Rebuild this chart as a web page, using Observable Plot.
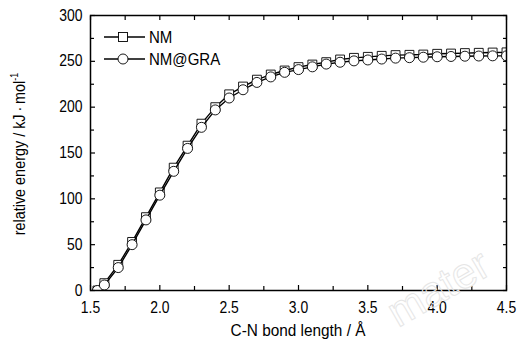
<!DOCTYPE html>
<html>
<head>
<meta charset="utf-8">
<script src="https://cdn.jsdelivr.net/npm/d3@7"></script>
<script src="https://cdn.jsdelivr.net/npm/@observablehq/plot@0.6"></script>
<style>
  html, body { margin: 0; padding: 0; background: #fff; }
  #chart { width: 517px; height: 342px; overflow: hidden; }
</style>
</head>
<body>
<div id="chart"></div>
<script>
// C-N bond length (Å)
const bondLength = [1.55, 1.6, 1.7, 1.8, 1.9, 2.0, 2.1, 2.2, 2.3, 2.4, 2.5, 2.6, 2.7, 2.8, 2.9, 3.0,
  3.1, 3.2, 3.3, 3.4, 3.5, 3.6, 3.7, 3.8, 3.9, 4.0, 4.1, 4.2, 4.3, 4.4, 4.5];
// relative energy (kJ/mol)
const nmEnergy = [0, 8, 28, 53, 80, 107, 134, 158, 182, 200, 214, 222.5, 230, 235.6, 240, 243.7,
  246.5, 249.1, 252, 253.8, 254.9, 256, 256.8, 257.1, 257.4, 258.2, 258.5, 259, 259.3, 259.6, 259.8];
const nmGraEnergy = [0, 6, 25, 50, 77, 104, 130, 155, 178, 197, 210, 219, 227, 233, 238, 241,
  244, 247, 249, 250.5, 251.5, 252.5, 253.5, 254, 254.5, 255, 255.3, 255.6, 255.8, 256, 256];
const seriesNames = ["NM", "NM@GRA"];
const xMajorTicks = [1.5, 2.0, 2.5, 3.0, 3.5, 4.0, 4.5];
const xMinorTicks = [1.75, 2.25, 2.75, 3.25, 3.75, 4.25];
const yMajorTicks = [0, 50, 100, 150, 200, 250, 300];
const yMinorTicks = [25, 75, 125, 175, 225, 275];
const xLabel = "C-N bond length / Å";
const yLabel = "relative energy / kJ\u2009·\u2009mol";

const nmData = bondLength.map((x, i) => ({x, y: nmEnergy[i]}));
const graData = bondLength.map((x, i) => ({x, y: nmGraEnergy[i]}));

const font = "'Liberation Sans',Arial,sans-serif";
const blank = () => "";

const plot = Plot.plot({
  width: 517,
  height: 342,
  marginLeft: 90,
  marginRight: 11,
  marginTop: 15,
  marginBottom: 52,
  style: {fontFamily: font, fontSize: "16px", color: "#000", background: "#fff", overflow: "visible"},
  x: {domain: [1.5, 4.5]},
  y: {domain: [0, 300]},
  marks: [
    Plot.line(nmData, {x: "x", y: "y", stroke: "#000", strokeWidth: 1.4, clip: true}),
    Plot.dot(nmData, {x: "x", y: "y", symbol: "square", r: 5, fill: "#fff", stroke: "#000", strokeWidth: 0.9, clip: true}),
    Plot.line(graData, {x: "x", y: "y", stroke: "#000", strokeWidth: 1.4, clip: true}),
    Plot.dot(graData, {x: "x", y: "y", symbol: "circle", r: 5, fill: "#fff", stroke: "#000", strokeWidth: 0.9, clip: true}),
    Plot.frame({stroke: "#000", strokeWidth: 1.5}),
    Plot.axisX({ticks: xMajorTicks, tickSize: -5, tickPadding: 16, tickFormat: d3.format(".1f"), label: null, strokeWidth: 1.2}),
    Plot.axisX({ticks: xMinorTicks, tickSize: -4, tickFormat: blank, label: null, strokeWidth: 1.2}),
    Plot.axisX({anchor: "top", ticks: xMajorTicks.concat(xMinorTicks), tickSize: -4, tickFormat: blank, label: null, strokeWidth: 1.2}),
    Plot.axisY({ticks: yMajorTicks, tickSize: -5, tickPadding: 13, tickFormat: d3.format("d"), label: null, strokeWidth: 1.2}),
    Plot.axisY({ticks: yMinorTicks, tickSize: -4, tickFormat: blank, label: null, strokeWidth: 1.2}),
    Plot.axisY({anchor: "right", ticks: yMajorTicks.concat(yMinorTicks), tickSize: -4, tickFormat: blank, label: null, strokeWidth: 1.2})
  ]
});

const svg = d3.select(plot);

// narrow face like the reference: condense axis tick texts horizontally
svg.selectAll("text").each(function() {
  const t = this.getAttribute("transform") || "";
  this.setAttribute("transform", t + " scale(0.87,1)");
});

// x-axis title
svg.append("text")
  .attr("transform", "translate(298,336) scale(0.96,1)")
  .attr("text-anchor", "middle")
  .attr("font-family", font)
  .attr("font-size", 16)
  .attr("fill", "#000")
  .text(xLabel);

// y-axis title with superscript
const yt = svg.append("text")
  .attr("transform", "translate(25,154) rotate(-90) scale(0.9,1)")
  .attr("text-anchor", "middle")
  .attr("font-family", font)
  .attr("font-size", 16)
  .attr("fill", "#000");
yt.append("tspan").text(yLabel);
yt.append("tspan").attr("dy", -7).attr("font-size", 10).text("-1");

// legend (inside top-left of frame)
const legend = svg.append("g").attr("font-family", font).attr("font-size", 16);
seriesNames.forEach((name, i) => {
  const cy = 37 + i * 22;
  legend.append("line").attr("x1", 104).attr("x2", 145).attr("y1", cy).attr("y2", cy)
    .attr("stroke", "#000").attr("stroke-width", 1.4);
  if (i === 0) {
    legend.append("rect").attr("x", 118.5).attr("y", cy - 4.5).attr("width", 9).attr("height", 9)
      .attr("fill", "#fff").attr("stroke", "#000").attr("stroke-width", 0.9);
  } else {
    legend.append("circle").attr("cx", 123).attr("cy", cy).attr("r", 5)
      .attr("fill", "#fff").attr("stroke", "#000").attr("stroke-width", 0.9);
  }
  legend.append("text").attr("transform", `translate(149,${cy + 6}) scale(0.94,1)`)
    .attr("text-anchor", "start").attr("fill", "#000").text(name);
});

// faint watermark
svg.append("text")
  .attr("transform", "translate(398,328) rotate(-30)")
  .attr("text-anchor", "start")
  .attr("font-family", "'Liberation Sans',Arial,sans-serif")
  .attr("font-size", 43)
  .attr("fill", "none")
  .attr("stroke", "#e6e6e6")
  .attr("stroke-width", 1)
  .text("mater");

document.getElementById("chart").appendChild(plot);
</script>
</body>
</html>
